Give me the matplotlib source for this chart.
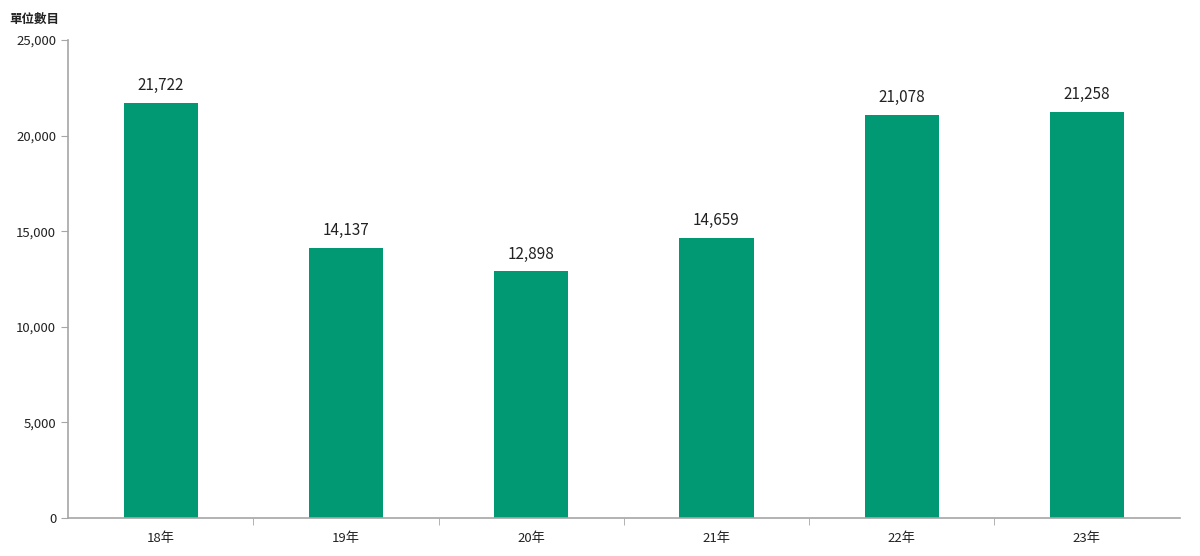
import matplotlib
matplotlib.use('Agg')
import matplotlib.pyplot as plt
from matplotlib.ticker import FuncFormatter, FixedLocator

plt.rcParams['font.family'] = ['Noto Sans CJK TC', 'DejaVu Sans']

# 資料
categories = ['18年', '19年', '20年', '21年', '22年', '23年']
values = [21722, 14137, 12898, 14659, 21078, 21258]
bar_color = '#009973'
axis_color = '#a6a6a6'

fig = plt.figure(figsize=(12, 5.56), dpi=100)
ax = fig.add_axes([0.0567, 0.0683, 0.9263, 0.8597])

x = list(range(len(categories)))
bars = ax.bar(x, values, width=0.4, color=bar_color, zorder=2)

for xi, v in zip(x, values):
    ax.text(xi, v + 450, f'{v:,}', ha='center', va='bottom', fontsize=11, color='#222222')

ax.set_xlim(-0.5, len(categories) - 0.5)
ax.set_ylim(0, 25000)
ax.set_yticks(range(0, 25001, 5000))
ax.yaxis.set_major_formatter(FuncFormatter(lambda v, p: f'{int(v):,}'))
ax.set_xticks(x)
ax.set_xticklabels(categories)
ax.xaxis.set_minor_locator(FixedLocator([i + 0.5 for i in range(len(categories) - 1)]))

for s in ['top', 'right']:
    ax.spines[s].set_visible(False)
for s in ['left', 'bottom']:
    ax.spines[s].set_color(axis_color)
    ax.spines[s].set_linewidth(1.2)

ax.tick_params(axis='y', colors=axis_color, labelcolor='#222222', labelsize=9.5, length=5, direction='out')
ax.tick_params(axis='x', which='major', length=0, labelsize=9.5, labelcolor='#222222', pad=10)
ax.tick_params(axis='x', which='minor', length=5, colors=axis_color, direction='out')

fig.text(0.008, 0.965, '單位數目', fontsize=9, color='#222222', ha='left', va='center', fontweight='bold')

fig.savefig('out.png', dpi=100)
